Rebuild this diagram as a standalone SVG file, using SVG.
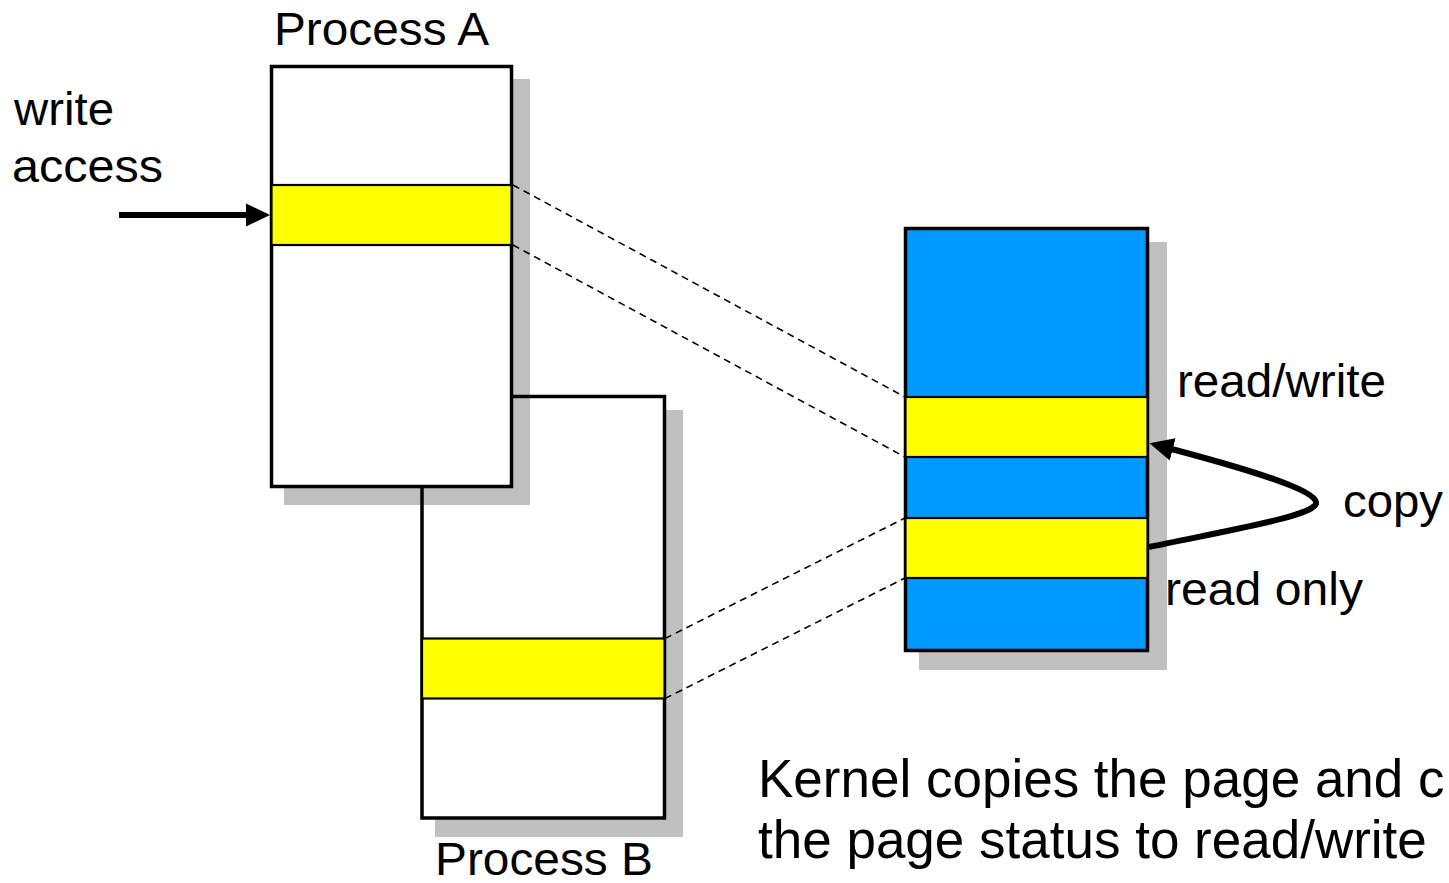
<svg xmlns="http://www.w3.org/2000/svg" width="1449" height="883" viewBox="0 0 1449 883">
  <style>
    .label { font-family: "Liberation Sans", Arial, sans-serif; font-size: 46px; fill: #000; }
    .note { font-family: "Liberation Sans", Arial, sans-serif; font-size: 53px; fill: #000; }
    .shadow { fill: #c0c0c0; stroke: none; }
    .frame { fill: #fff; stroke: #000; stroke-width: 3.5; }
    .mem { fill: #0099ff; stroke: #000; stroke-width: 3.5; }
    .page { fill: #ffff00; stroke: #000; stroke-width: 2.2; }
    .map { fill: none; stroke: #000; stroke-width: 1.6; stroke-dasharray: 7 5; }
    .arrow { fill: none; stroke: #000; stroke-width: 6; }
  </style>
  <defs>
    <marker id="head" markerUnits="userSpaceOnUse" viewBox="0 0 24 24" markerWidth="24" markerHeight="24" refX="9" refY="12" orient="auto">
      <path d="M0,0.5 L24,12 L0,23.5 z" fill="#000"/>
    </marker>
  </defs>

  <rect width="1449" height="883" fill="#fff"/>

  <!-- Process B address space (drawn first, lies behind A) -->
  <g id="process-b">
    <rect class="shadow" x="435" y="410" width="248" height="427"/>
    <rect class="frame" x="422" y="396.5" width="242.5" height="421.5"/>
    <rect class="page" x="422" y="638.5" width="242.5" height="60"/>
    <text class="label" x="435" y="875" textLength="218" lengthAdjust="spacingAndGlyphs">Process B</text>
  </g>

  <!-- Process A address space -->
  <g id="process-a">
    <rect x="284" y="79" width="246" height="426" fill="#000" fill-opacity="0.25"/>
    <rect class="frame" x="271.5" y="66.5" width="240" height="420"/>
    <rect class="page" x="271.5" y="185" width="240" height="60"/>
    <text class="label" x="274" y="45" textLength="215" lengthAdjust="spacingAndGlyphs">Process A</text>
  </g>

  <!-- Physical memory -->
  <g id="physical-memory">
    <rect class="shadow" x="919" y="242" width="248" height="428"/>
    <rect class="mem" x="905.5" y="228.5" width="242" height="422"/>
    <rect class="page" x="905.5" y="397" width="242" height="60"/>
    <rect class="page" x="905.5" y="518" width="242" height="60"/>
  </g>

  <!-- Mappings and arrows -->
  <g id="connectors">
    <line class="map" x1="513" y1="185" x2="905" y2="397"/>
    <line class="map" x1="513" y1="245" x2="905" y2="457"/>
    <line class="map" x1="665" y1="638.5" x2="905" y2="518"/>
    <line class="map" x1="665" y1="698.5" x2="905" y2="578"/>
    <line class="arrow" x1="119" y1="215" x2="255" y2="215" marker-end="url(#head)"/>
    <path class="arrow" d="M1149,547 C1230,530 1320,515 1316,502 C1313,488 1236,466 1164,447" marker-end="url(#head)"/>
  </g>

  <!-- Labels -->
  <g id="labels">
    <text class="label" x="14" y="125" textLength="100" lengthAdjust="spacingAndGlyphs">write</text>
    <text class="label" x="12" y="182" textLength="151" lengthAdjust="spacingAndGlyphs">access</text>
    <text class="label" x="1177" y="397" textLength="209" lengthAdjust="spacingAndGlyphs">read/write</text>
    <text class="label" x="1343" y="517" textLength="100" lengthAdjust="spacingAndGlyphs">copy</text>
    <text class="label" x="1165" y="605" textLength="198" lengthAdjust="spacingAndGlyphs">read only</text>
    <text class="note" x="758" y="797">Kernel copies the page and c</text>
    <text class="note" x="758" y="858">the page status to read/write</text>
  </g>
</svg>
